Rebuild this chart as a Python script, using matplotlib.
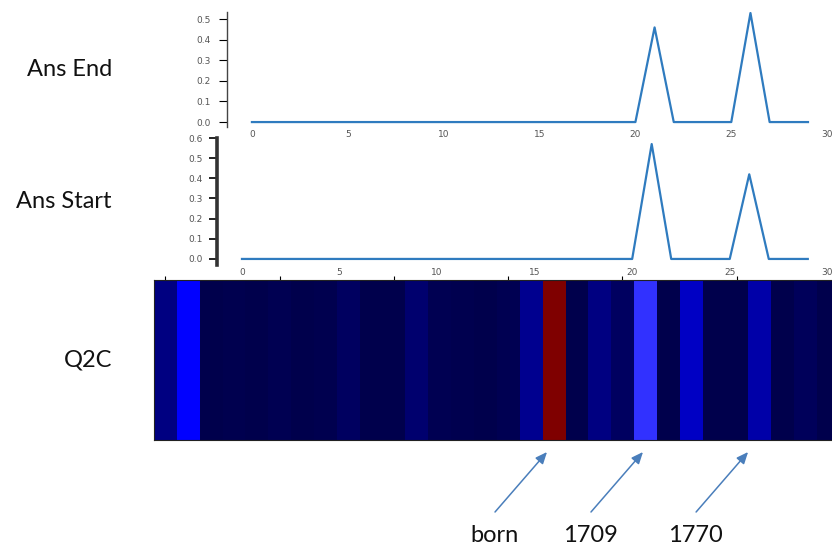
import matplotlib
matplotlib.use('Agg')
import matplotlib.pyplot as plt

plt.rcParams['font.family'] = ['DejaVu Sans']

# values
steps = list(range(30))
ans_end = [0.0, 0.0, 0.0, 0.0, 0.0, 0.0, 0.0, 0.0, 0.0, 0.0,
           0.0, 0.0, 0.0, 0.0, 0.0, 0.0, 0.0, 0.0, 0.0, 0.0,
           0.0, 0.46, 0.0, 0.0, 0.0, 0.0, 0.53, 0.0, 0.0, 0.0]
ans_start = [0.0, 0.0, 0.0, 0.0, 0.0, 0.0, 0.0, 0.0, 0.0, 0.0,
             0.0, 0.0, 0.0, 0.0, 0.0, 0.0, 0.0, 0.0, 0.0, 0.0,
             0.0, 0.57, 0.0, 0.0, 0.0, 0.0, 0.42, 0.0, 0.0, 0.0]
q2c = [0.075, 0.25, 0.0, 0.005, 0.0, 0.01, 0.0, 0.005, 0.03, 0.0,
       0.0, 0.05, 0.008, 0.004, 0.0, 0.01, 0.095, 1.0, 0.0, 0.075,
       0.03, 0.3, 0.0, 0.17, 0.0, 0.0, 0.13, 0.0, 0.02, 0.0]
xticks = [0, 5, 10, 15, 20, 25, 30]
end_yticks = [0.0, 0.1, 0.2, 0.3, 0.4, 0.5]
start_yticks = [0.0, 0.1, 0.2, 0.3, 0.4, 0.5, 0.6]
row_names = ['Ans End', 'Ans Start', 'Q2C']
words = ['born', '1709', '1770']
word_x = [16.7, 20.9, 25.5]   # where each arrow points on the Q2C strip

W, H = 832, 547
fig = plt.figure(figsize=(W / 100, H / 100), dpi=100)


def box(l, t, r, b):
    # pixel box -> figure fractions
    return [l / W, 1 - b / H, (r - l) / W, (b - t) / H]


line_c = '#2f7bbf'
lab_font = dict(family=['Lato', 'DejaVu Sans'], fontsize=17, color='#111111')

# Ans End
ax1 = fig.add_axes(box(227, 12, 840, 127))
ax1.plot(steps, ans_end, color=line_c, lw=1.6)
ax1.set_xlim(-1.30, 30.67)
ax1.set_ylim(-0.024, 0.535)
ax1.set_yticks(end_yticks)
ax1.set_xticks(xticks)
for s in ['top', 'right', 'bottom']:
    ax1.spines[s].set_visible(False)
ax1.spines['left'].set_linewidth(1.0)
ax1.spines['left'].set_color('#444444')
ax1.tick_params(axis='y', labelsize=6.5, labelcolor='#555555', length=6, width=0.8, pad=6)
ax1.tick_params(axis='x', labelsize=6.5, labelcolor='#555555', length=0, pad=2)

# Ans Start
ax2 = fig.add_axes(box(217, 138, 839, 265))
ax2.plot(steps, ans_start, color=line_c, lw=1.6)
ax2.set_xlim(-1.28, 30.6)
ax2.set_ylim(-0.03, 0.6)
ax2.set_yticks(start_yticks)
ax2.set_xticks(xticks)
for s in ['top', 'right', 'bottom']:
    ax2.spines[s].set_visible(False)
ax2.spines['left'].set_linewidth(2.6)
ax2.spines['left'].set_color('#333333')
ax2.tick_params(axis='y', labelsize=6.5, labelcolor='#555555', length=6, width=1.2, pad=4)
ax2.tick_params(axis='x', labelsize=6.5, labelcolor='#555555', length=0, pad=2)

# Q2C strip
ax3 = fig.add_axes(box(154, 280, 839.5, 440))
ax3.imshow([q2c], cmap='seismic', vmin=0, vmax=1, aspect='auto',
           interpolation='nearest')
ax3.set_xlim(-0.5, len(q2c) - 0.5)
ax3.set_xticks(xticks[:-1])
ax3.set_yticks([])
ax3.tick_params(top=True, bottom=False, labeltop=False, labelbottom=False,
                length=3, width=0.8)
for s in ax3.spines.values():
    s.set_linewidth(0.8)
    s.set_color('#222222')

# row names on the left
for ax, name in zip([ax1, ax2, ax3], row_names):
    mid = 0.5 * (ax.get_position().y0 + ax.get_position().y1)
    fig.text(112 / W, mid, name, ha='right', va='center', **lab_font)

# arrows and words under the strip
for x, w in zip(word_x, words):
    ax3.annotate('', xy=(x, -0.075), xycoords=('data', 'axes fraction'),
                 xytext=(-52, -60), textcoords='offset pixels',
                 arrowprops=dict(arrowstyle='-|>,head_length=0.7,head_width=0.3',
                                 color='#4a7ebb', lw=1.1, shrinkA=0, shrinkB=0),
                 annotation_clip=False)
    ax3.annotate(w, xy=(x, -0.075), xycoords=('data', 'axes fraction'),
                 xytext=(-53, -83), textcoords='offset pixels',
                 ha='center', va='center', annotation_clip=False, **lab_font)

fig.savefig('out.png', dpi=100)
